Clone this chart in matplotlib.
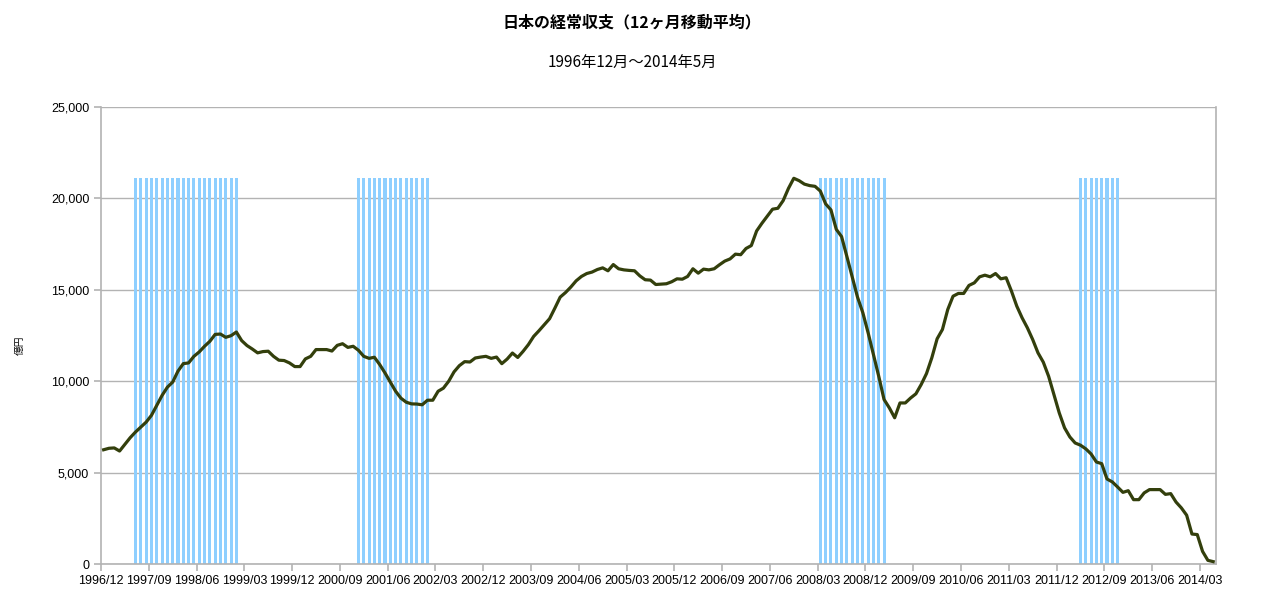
import matplotlib.pyplot as plt
from matplotlib.ticker import FuncFormatter

plt.rcParams['font.family'] = ['Liberation Sans', 'Noto Sans CJK JP', 'DejaVu Sans']

# monthly labels, 1996/12 .. 2014/05
months = []
y, m = 1996, 12
for _ in range(210):
    months.append(f"{y}/{m:02d}")
    m += 1
    if m > 12:
        m = 1
        y += 1

# current account, 12-month moving average (100 million yen)
values = [
    6250, 6330, 6350, 6180, 6545, 6910, 7220, 7490, 7760, 8130,
    8670, 9220, 9670, 9950, 10550, 10960, 11000, 11360, 11600, 11910,
    12180, 12560, 12580, 12400, 12490, 12690, 12220, 11950, 11760, 11550,
    11620, 11640, 11360, 11150, 11130, 11000, 10800, 10800, 11220, 11360,
    11730, 11730, 11730, 11650, 11960, 12050, 11850, 11910, 11690, 11360,
    11250, 11310, 10910, 10450, 9950, 9450, 9070, 8850, 8760, 8750,
    8710, 8960, 8960, 9450, 9620, 10000, 10510, 10850, 11070, 11050,
    11270, 11320, 11360, 11250, 11320, 10960, 11210, 11540, 11300, 11630,
    12000, 12450, 12760, 13090, 13420, 14000, 14600, 14850, 15150, 15490,
    15730, 15890, 15970, 16110, 16200, 16040, 16380, 16150, 16090, 16060,
    16040, 15760, 15550, 15530, 15290, 15310, 15330, 15440, 15600, 15580,
    15730, 16150, 15910, 16130, 16090, 16150, 16370, 16570, 16690, 16950,
    16920, 17260, 17420, 18220, 18640, 19020, 19410, 19460, 19880, 20550,
    21100, 20970, 20780, 20700, 20660, 20400, 19700, 19370, 18310, 17910,
    16820, 15700, 14600, 13750, 12650, 11450, 10270, 9000, 8540, 8000,
    8810, 8810, 9080, 9310, 9820, 10420, 11280, 12320, 12830, 13920,
    14650, 14800, 14800, 15240, 15380, 15710, 15800, 15710, 15890, 15600,
    15660, 14930, 14110, 13470, 12920, 12280, 11550, 11040, 10270, 9270,
    8270, 7450, 6950, 6620, 6500, 6300, 6020, 5580, 5490, 4650,
    4490, 4210, 3920, 4010, 3520, 3520, 3890, 4070, 4070, 4070,
    3810, 3850, 3390, 3070, 2670, 1640, 1610, 690, 200, 130,
]

# recession periods (start, end) shown as bars
recessions = [("1997/06", "1999/01"), ("2000/12", "2002/01"),
              ("2008/03", "2009/03"), ("2012/04", "2012/11")]
recession_level = 21100

rec_idx = []
for s, e in recessions:
    rec_idx += list(range(months.index(s), months.index(e) + 1))

fig = plt.figure(figsize=(12.64, 6.10), dpi=100)
ax = fig.add_axes([0.0799, 0.0754, 0.882, 0.7492])

x = list(range(len(values)))
ax.bar(rec_idx, [recession_level] * len(rec_idx), width=0.58,
       color='#8ecfff', zorder=2)
ax.plot(x, values, color='#333f0c', lw=2.3, zorder=3,
        solid_joinstyle='round')

ax.set_xlim(-0.5, len(values) - 0.5)
ax.set_ylim(0, 25000)
ax.set_yticks(range(0, 25001, 5000))
ax.yaxis.set_major_formatter(FuncFormatter(lambda v, p: f"{int(v):,}"))

tick_pos = [k * 9 - 0.5 for k in range(24)]
ax.set_xticks(tick_pos)
ax.set_xticklabels([months[k * 9] for k in range(24)])

ax.grid(axis='y', color='#b3b3b3', lw=1.0, zorder=0)
ax.set_axisbelow(True)
for side in ['left', 'bottom', 'right']:
    ax.spines[side].set_color('#b3b3b3')
    ax.spines[side].set_linewidth(1.2)
ax.spines['top'].set_visible(False)
ax.tick_params(axis='both', colors='#b3b3b3', labelcolor='black',
               labelsize=9, length=5, width=1.2)
ax.tick_params(axis='x', pad=3)

fig.text(20 / 1264, 0.434, '億円', rotation=90, ha='center', va='center',
         fontsize=7, family=['Noto Sans CJK JP'])

fig.text(0.5, 0.963, '日本の経常収支（12ヶ月移動平均）', ha='center', va='center',
         fontsize=11.5, fontweight='bold', family=['Noto Sans CJK JP'])
fig.text(0.5, 0.898, '1996年12月～2014年5月', ha='center', va='center',
         fontsize=11, family=['Noto Sans CJK JP'])

fig.savefig('out.png', dpi=100)
